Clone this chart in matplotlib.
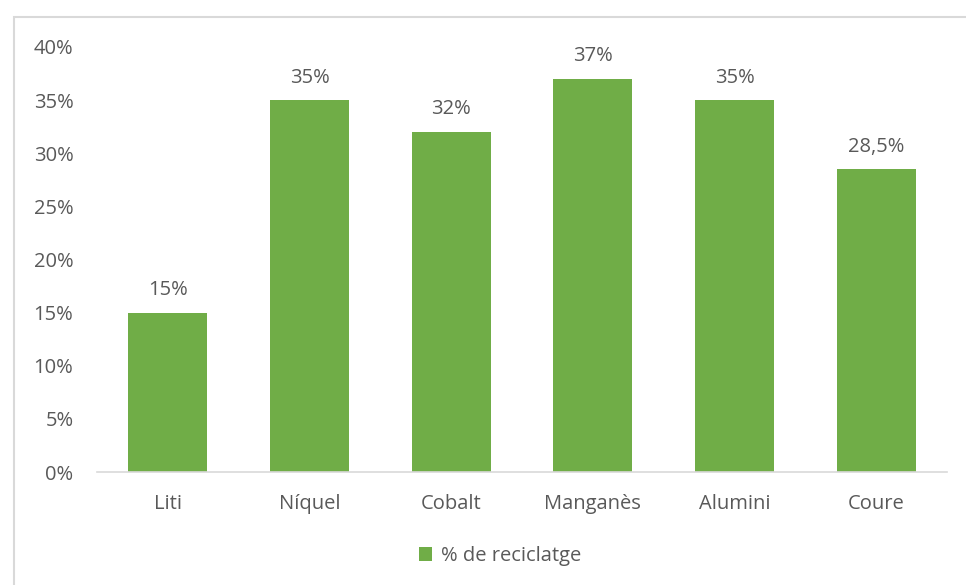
import matplotlib.pyplot as plt
from matplotlib.patches import Rectangle
from matplotlib.ticker import FuncFormatter

categories = ["Liti", "Níquel", "Cobalt", "Manganès", "Alumini", "Coure"]
values = [15, 35, 32, 37, 35, 28.5]
value_labels = ["15%", "35%", "32%", "37%", "35%", "28,5%"]
series_name = "% de reciclatge"

green = "#70AD47"
text_gray = "#595959"
plt.rcParams["font.family"] = ["Open Sans", "DejaVu Sans"]
fs = 14.5

fig = plt.figure(figsize=(9.66, 5.85), dpi=100)
fig.patch.set_facecolor("white")

# chart area frame
fig.add_artist(Rectangle((14 / 966, -0.05), 1.1, 1 - 17 / 585 + 0.05,
                         transform=fig.transFigure, fill=False,
                         edgecolor="#D9D9D9", linewidth=1.5))

ax = fig.add_axes([97 / 966, 1 - 472 / 585, 850 / 966, 425 / 585])
x = range(len(categories))
bars = ax.bar(x, values, width=0.557, color=green, label=series_name)

for b, lab in zip(bars, value_labels):
    ax.annotate(lab, (b.get_x() + b.get_width() / 2, b.get_height()),
                xytext=(0, 9), textcoords="offset points",
                ha="center", va="bottom", fontsize=fs, color=text_gray)

ax.set_xlim(-0.5, len(categories) - 0.5)
ax.set_ylim(0, 40)
ax.set_yticks(range(0, 41, 5))
ax.yaxis.set_major_formatter(FuncFormatter(lambda v, p: f"{v:.0f}%"))
ax.set_xticks(list(x))
ax.set_xticklabels(categories)
ax.tick_params(axis="both", length=0, labelsize=fs, colors=text_gray)
ax.tick_params(axis="y", pad=17)
ax.tick_params(axis="x", pad=16)

for s in ["top", "right", "left"]:
    ax.spines[s].set_visible(False)
ax.spines["bottom"].set_color("#D9D9D9")
ax.spines["bottom"].set_linewidth(1.2)

leg = fig.legend(handles=[bars], labels=[series_name], loc="center",
                 bbox_to_anchor=(500 / 966, 1 - 556 / 585), frameon=False,
                 fontsize=fs, handlelength=0.65, handleheight=0.65,
                 handletextpad=0.45, labelcolor=text_gray)

fig.savefig("out.png", dpi=100, facecolor="white")
